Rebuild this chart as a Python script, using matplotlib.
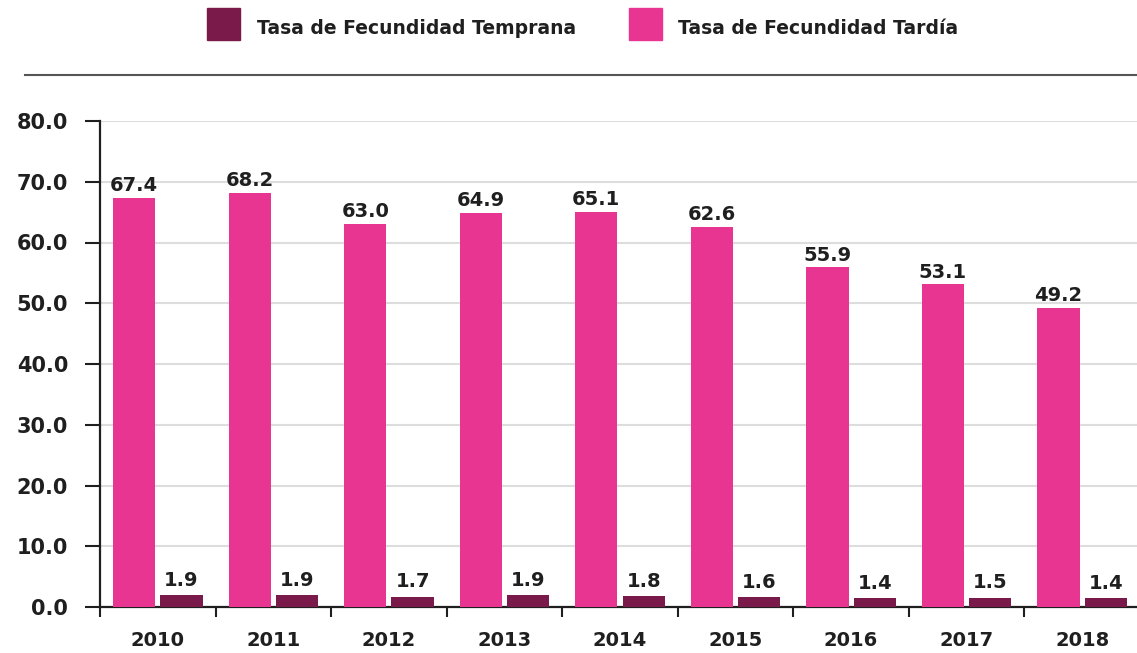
import matplotlib.pyplot as plt
import numpy as np

# Fertility rates by year
years = ['2010', '2011', '2012', '2013', '2014', '2015', '2016', '2017', '2018']
tardia = [67.4, 68.2, 63.0, 64.9, 65.1, 62.6, 55.9, 53.1, 49.2]
temprana = [1.9, 1.9, 1.7, 1.9, 1.8, 1.6, 1.4, 1.5, 1.4]

PINK = '#E83591'
PLUM = '#7A1A4B'
INK = '#1f1f1f'

plt.rcParams['font.family'] = 'DejaVu Sans'

fig = plt.figure(figsize=(11.37, 6.53), dpi=100)
ax = fig.add_axes([100 / 1137, 46 / 653, 1040 / 1137, 486 / 653])

x = np.arange(len(years))
w = 0.365
b1 = ax.bar(x - 0.205, tardia, w, color=PINK, zorder=3)
b2 = ax.bar(x + 0.205, temprana, w, color=PLUM, zorder=3)

# value labels above each bar
for rect, v in zip(b1, tardia):
    ax.annotate(f'{v:.1f}', (rect.get_x() + rect.get_width() / 2, v),
                xytext=(0, 2), textcoords='offset points', ha='center', va='bottom',
                fontsize=14, fontweight='bold', color=INK)
for rect, v in zip(b2, temprana):
    ax.annotate(f'{v:.1f}', (rect.get_x() + rect.get_width() / 2, v),
                xytext=(0, 4), textcoords='offset points', ha='center', va='bottom',
                fontsize=14, fontweight='bold', color=INK)

ax.set_xlim(-0.5, len(years) - 0.5)
ax.set_ylim(0, 80)
ax.set_yticks(np.arange(0, 81, 10))
ax.set_yticklabels([f'{t:.1f}' for t in np.arange(0, 81, 10)])

# ticks at category boundaries, labels at centres
ax.set_xticks(np.arange(-0.5, len(years), 1.0))
ax.set_xticklabels([])
ax.set_xticks(x, minor=True)
ax.set_xticklabels(years, minor=True)
ax.tick_params(axis='x', which='major', length=7, width=1.5, color=INK, direction='out')
ax.tick_params(axis='x', which='minor', length=0, pad=17)
ax.tick_params(axis='y', length=11, width=1.5, color=INK, pad=12)
for lab in ax.get_xticklabels(minor=True):
    lab.set_fontsize(14)
    lab.set_fontweight('bold')
    lab.set_color(INK)
for lab in ax.get_yticklabels():
    lab.set_fontsize(15)
    lab.set_fontweight('bold')
    lab.set_color(INK)

ax.grid(axis='y', color='#dddddd', linewidth=1.5, zorder=0)
ax.set_axisbelow(True)
for s in ['top', 'right']:
    ax.spines[s].set_visible(False)
for s in ['left', 'bottom']:
    ax.spines[s].set_color(INK)
    ax.spines[s].set_linewidth(1.6)

# legend row and separator line
fig.add_artist(plt.Rectangle((207 / 1137, 1 - 40 / 653), 33 / 1137, 32 / 653,
                             color=PLUM, transform=fig.transFigure))
fig.text(257 / 1137, 1 - 28 / 653, 'Tasa de Fecundidad Temprana', ha='left', va='center',
         fontsize=13.5, fontweight='bold', color=INK)
fig.add_artist(plt.Rectangle((629 / 1137, 1 - 40 / 653), 33 / 1137, 32 / 653,
                             color=PINK, transform=fig.transFigure))
fig.text(678 / 1137, 1 - 28 / 653, 'Tasa de Fecundidad Tardía', ha='left', va='center',
         fontsize=13.5, fontweight='bold', color=INK)
fig.add_artist(plt.Line2D([25 / 1137, 1.0], [1 - 75 / 653] * 2, color='#555555',
                          linewidth=1.5, transform=fig.transFigure))

fig.savefig('out.png', dpi=100)
